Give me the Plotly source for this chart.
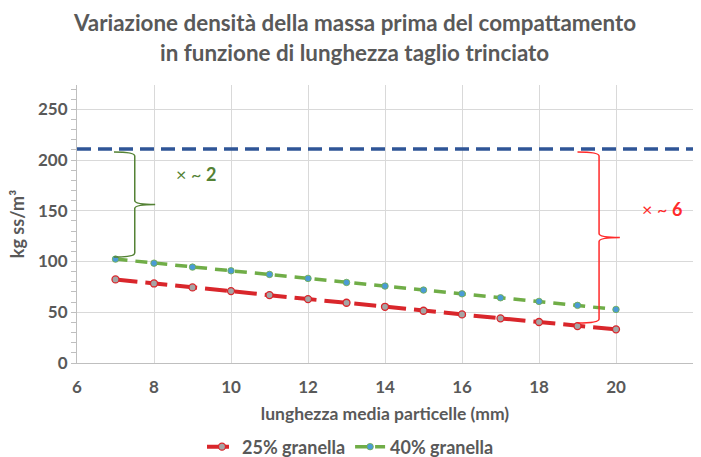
import plotly.graph_objects as go

# Lunghezza media delle particelle (mm)
lunghezza = [7, 8, 9, 10, 11, 12, 13, 14, 15, 16, 17, 18, 19, 20]
# Densità della massa prima del compattamento (kg ss/m³)
dens_25 = [82.4, 78.4, 74.5, 70.9, 66.9, 63.0, 59.4, 55.4, 51.5, 47.9, 44.0, 40.4, 36.4, 33.2]
dens_40 = [102.4, 98.4, 94.5, 90.9, 87.3, 83.4, 79.4, 75.8, 71.9, 68.2, 64.3, 60.7, 56.8, 52.8]
# Densità di riferimento
riferimento = 211
x_limiti = [6, 22]

nome_25 = "25% granella"
nome_40 = "40% granella"
titolo_1 = "Variazione densità della massa prima del compattamento"
titolo_2 = "in funzione di lunghezza taglio trinciato"
testo_2 = "× ~ <b>2</b>"
testo_6 = "× ~ <b>6</b>"

GRIGIO = "#595959"
ROSSO = "#d9262b"
VERDE = "#70ad47"
BLU = "#2f5597"
VERDE_SCURO = "#548235"
ROSSO_VIVO = "#ff2a2a"
FONT = "Lato"

W, H = 701, 457
ML, MR, MT, MB = 77, 8, 85, 94
PW, PH = W - ML - MR, H - MT - MB

fig = go.Figure()

fig.add_trace(go.Scatter(
    x=x_limiti, y=[riferimento, riferimento], mode="lines",
    line=dict(color=BLU, width=3.5, dash="14px,7px"),
    showlegend=False, hoverinfo="skip",
))
fig.add_trace(go.Scatter(
    x=lunghezza, y=dens_25, mode="lines+markers", name=nome_25,
    line=dict(color=ROSSO, width=4, dash="22px,8px"),
    marker=dict(size=7, color="#a5a5a5", line=dict(color=ROSSO, width=1.3)),
))
fig.add_trace(go.Scatter(
    x=lunghezza, y=dens_40, mode="lines+markers", name=nome_40,
    line=dict(color=VERDE, width=3.5, dash="12px,8px"),
    marker=dict(size=6.5, color="#4a9bd6", line=dict(color=VERDE, width=0.8)),
))


def graffa(x0, xv, xt, ytop, ybot, r=4):
    ymid = (ytop + ybot) / 2
    return (f"M {x0},{ytop} Q {xv},{ytop} {xv},{ytop - r} "
            f"L {xv},{ymid + r} Q {xv},{ymid} {xt},{ymid} "
            f"Q {xv},{ymid} {xv},{ymid - r} "
            f"L {xv},{ybot + r} Q {xv},{ybot} {x0},{ybot}")


fig.add_shape(type="path", xref="x", yref="y",
              path=graffa(6.96, 7.5, 8.03, riferimento - 3, dens_40[0] + 2),
              line=dict(color=VERDE_SCURO, width=1.5))
fig.add_shape(type="path", xref="x", yref="y",
              path=graffa(19.0, 19.56, 20.1, riferimento - 3, dens_25[-2] + 3),
              line=dict(color=ROSSO_VIVO, width=1.5))

fig.add_annotation(x=9.1, y=186, xref="x", yref="y", text=testo_2, showarrow=False,
                   font=dict(family=FONT, size=18, color=VERDE_SCURO))
fig.add_annotation(x=21.2, y=151.5, xref="x", yref="y", text=testo_6, showarrow=False,
                   font=dict(family=FONT, size=18, color=ROSSO_VIVO))

# Titolo su due righe
for testo, ypix in ((titolo_1, 22), (titolo_2, 52)):
    fig.add_annotation(
        text=testo, showarrow=False,
        xref="paper", x=(354 - ML) / PW, xanchor="center",
        yref="paper", y=(H - MB - ypix) / PH, yanchor="middle",
        font=dict(family=FONT, size=22.4, color=GRIGIO, weight="bold"),
    )

fig.update_layout(
    width=W, height=H,
    margin=dict(l=ML, r=MR, t=MT, b=MB),
    paper_bgcolor="white", plot_bgcolor="white",
    font=dict(family=FONT, color=GRIGIO),
    legend=dict(
        orientation="h", x=0.5, xref="container", xanchor="center",
        y=0.022, yref="container", yanchor="middle",
        font=dict(family=FONT, size=18, color=GRIGIO, weight="bold"),
        itemwidth=30, tracegroupgap=0,
    ),
    showlegend=True,
)

fig.update_xaxes(
    range=x_limiti, dtick=2, tick0=6,
    showgrid=True, gridcolor="#d9d9d9", gridwidth=1,
    showline=True, linecolor="#bfbfbf", linewidth=1,
    zeroline=False, ticks="", ticklabelstandoff=9,
    tickfont=dict(family=FONT, size=17, color=GRIGIO, weight="bold"),
    title=dict(text="lunghezza media particelle (mm)", standoff=11,
               font=dict(family=FONT, size=17.5, color=GRIGIO, weight="bold")),
)
fig.update_yaxes(
    range=[0, 274], dtick=50, tick0=0,
    showgrid=True, gridcolor="#d9d9d9", gridwidth=1,
    showline=True, linecolor="#bfbfbf", linewidth=1,
    zeroline=False, ticks="outside", ticklen=5, tickcolor="#bfbfbf",
    minor=dict(dtick=10, ticks="outside", ticklen=5, tickcolor="#bfbfbf", showgrid=False),
    tickfont=dict(family=FONT, size=17, color=GRIGIO, weight="bold"),
    title=dict(text="kg ss/m³", standoff=8,
               font=dict(family=FONT, size=18, color=GRIGIO, weight="bold")),
)

fig.write_html("out.html")
